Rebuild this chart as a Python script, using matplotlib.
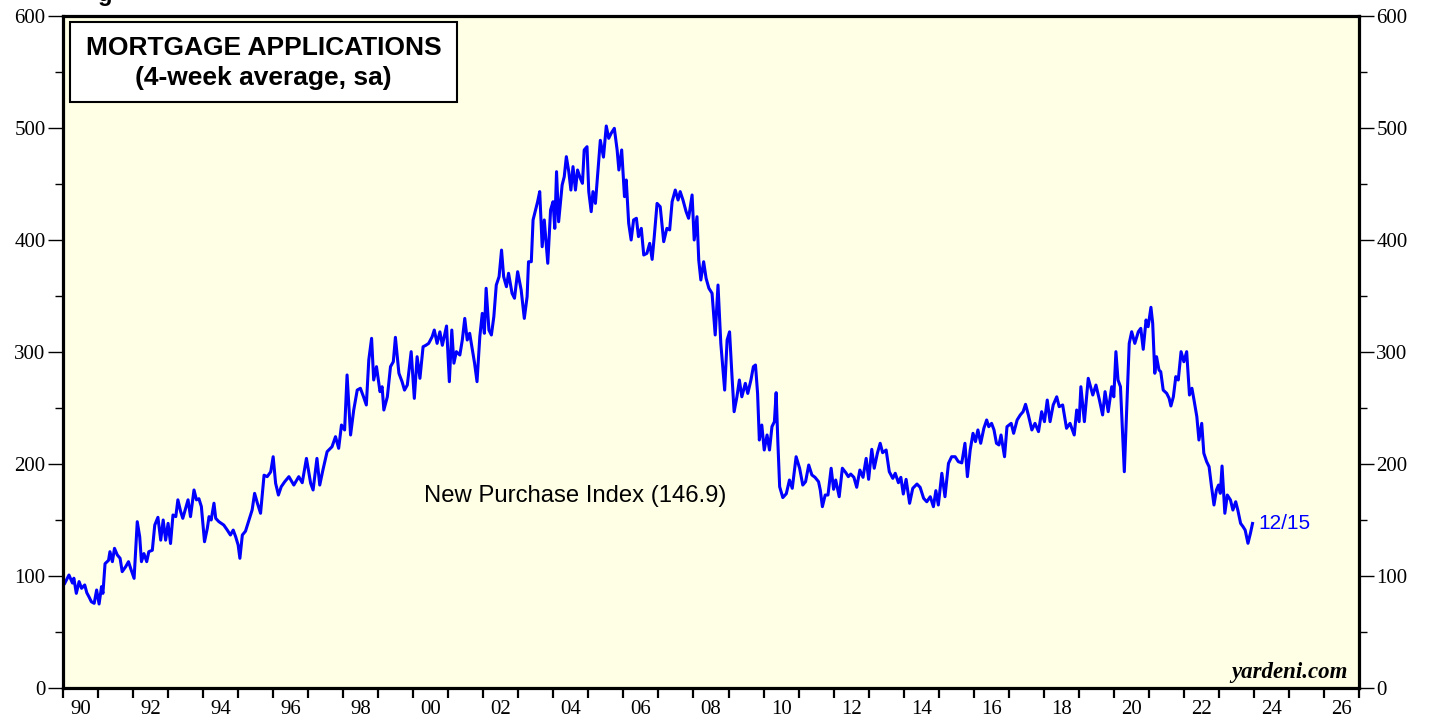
import matplotlib
matplotlib.use("Agg")
import matplotlib.pyplot as plt
from matplotlib.patches import Rectangle
from matplotlib.ticker import MultipleLocator, FixedLocator, NullFormatter, FixedFormatter

# ---- data: New Purchase Index (4-week avg, sa), decimal years ----
dates_1990s = [1990.05, 1990.17, 1990.27, 1990.31, 1990.38, 1990.46, 1990.53, 1990.62, 1990.68, 1990.74,
               1990.81, 1990.89, 1990.96, 1991.03, 1991.10, 1991.14, 1991.20, 1991.30, 1991.34, 1991.41,
               1991.47, 1991.55, 1991.63, 1991.69, 1991.79, 1991.87, 1991.93, 1992.03, 1992.12, 1992.19,
               1992.24, 1992.31, 1992.39, 1992.45, 1992.55, 1992.62, 1992.71, 1992.79, 1992.86, 1992.93,
               1993.00, 1993.07, 1993.14, 1993.22, 1993.28, 1993.36, 1993.42, 1993.50, 1993.57, 1993.64,
               1993.74, 1993.81, 1993.88, 1993.95, 1994.04, 1994.12, 1994.17, 1994.23, 1994.31, 1994.36,
               1994.45, 1994.59, 1994.69, 1994.78, 1994.86, 1994.93, 1995.00, 1995.05, 1995.12, 1995.21,
               1995.31, 1995.40, 1995.47, 1995.55, 1995.64, 1995.74, 1995.83, 1995.93, 1996.00, 1996.07,
               1996.15, 1996.23, 1996.33, 1996.45, 1996.59, 1996.73, 1996.83, 1996.95, 1997.07, 1997.14,
               1997.25, 1997.33, 1997.42, 1997.54, 1997.68, 1997.78, 1997.87, 1997.95, 1998.04, 1998.11,
               1998.21, 1998.30, 1998.40, 1998.49, 1998.58, 1998.66, 1998.73, 1998.81, 1998.87, 1998.95,
               1999.05, 1999.11, 1999.16, 1999.26, 1999.35, 1999.43, 1999.49, 1999.59, 1999.68, 1999.75,
               1999.83, 1999.94]
values_1990s = [93.5, 100.9, 93.7, 98, 84.5, 95, 89, 92, 85, 81.5,
                77, 75.6, 87.5, 75, 90.5, 84.5, 111, 114, 121.7, 112.8,
                124.7, 118.8, 115.8, 103.9, 108.3, 112.8, 106.9, 97.9, 148.5, 135,
                112.8, 120, 112.8, 121.7, 123, 145.5, 152.4, 132, 150, 132,
                147, 129, 154.5, 153, 168, 157.4, 151.5, 160.4, 168, 153,
                176.8, 168, 169, 162, 130.6, 142.6, 153, 150, 165, 151.5,
                148.5, 145.5, 141, 136.6, 141, 135, 127.7, 115.8, 136.6, 140,
                150, 159, 173.8, 165, 156, 190, 188.7, 193, 206.5, 182.8,
                172.3, 179.7, 184.2, 188.7, 181.2, 188.7, 183.3, 205, 182.8, 176.8,
                205, 181.2, 194.6, 211, 215.4, 224.4, 214, 234.8, 230.4, 279.5,
                225.9, 248.2, 266, 267.6, 260, 252.7, 292.9, 312.2, 275, 286.9,
                264.6, 269, 248.2, 260, 286.9, 291.3, 313.1, 281, 273.5, 266,
                270.5, 300.3]

dates_2000s = [2000.03, 2000.11, 2000.19, 2000.28, 2000.36, 2000.44, 2000.54, 2000.60, 2000.68, 2000.76,
               2000.83, 2000.95, 2001.03, 2001.10, 2001.16, 2001.23, 2001.33, 2001.40, 2001.47, 2001.54,
               2001.61, 2001.68, 2001.75, 2001.82, 2001.90, 2001.97, 2002.03, 2002.08, 2002.16, 2002.23,
               2002.30, 2002.37, 2002.45, 2002.52, 2002.58, 2002.66, 2002.72, 2002.82, 2002.89, 2002.98,
               2003.08, 2003.17, 2003.25, 2003.29, 2003.37, 2003.42, 2003.49, 2003.55, 2003.61, 2003.68,
               2003.74, 2003.84, 2003.92, 2003.99, 2004.04, 2004.09, 2004.15, 2004.25, 2004.31, 2004.37,
               2004.44, 2004.50, 2004.56, 2004.63, 2004.69, 2004.77, 2004.83, 2004.88, 2004.96, 2005.01,
               2005.08, 2005.13, 2005.20, 2005.26, 2005.34, 2005.43, 2005.51, 2005.58, 2005.65, 2005.74,
               2005.82, 2005.87, 2005.95, 2006.03, 2006.08, 2006.15, 2006.22, 2006.29, 2006.37, 2006.43,
               2006.51, 2006.58, 2006.67, 2006.75, 2006.82, 2006.88, 2006.96, 2007.05, 2007.15, 2007.24,
               2007.32, 2007.39, 2007.48, 2007.56, 2007.62, 2007.70, 2007.79, 2007.86, 2007.96, 2008.02,
               2008.10, 2008.15, 2008.21, 2008.29, 2008.36, 2008.44, 2008.53, 2008.62, 2008.70, 2008.78,
               2008.89, 2008.96, 2009.03, 2009.10, 2009.16, 2009.24, 2009.31, 2009.38, 2009.48, 2009.55,
               2009.64, 2009.71, 2009.77, 2009.83, 2009.88, 2009.95]
values_2000s = [258.6, 295.8, 276.5, 304.7, 306, 307.7, 313.7, 319.6, 307.7, 318,
                306, 323.2, 273.5, 319.6, 290, 300.3, 297.3, 310.7, 330, 310.7,
                316.7, 303.3, 290, 273.5, 313.7, 334.5, 316.7, 356.9, 319.6, 315.2,
                331.5, 359.8, 367.3, 391, 367.3, 358.3, 370.3, 352.4, 348, 371.7,
                355.4, 330, 349.4, 380.6, 380.6, 417.9, 426.8, 434.2, 443.2, 394,
                417.9, 379.2, 426.8, 434.2, 410.4, 461, 416.3, 449.1, 456.5, 474.4,
                461, 444.6, 465.5, 444.6, 462.5, 455, 450.6, 480.4, 483.3, 443.2,
                425.3, 443.2, 432.7, 456.5, 489, 474, 501.8, 490.8, 495.3, 499.7,
                480.4, 462.5, 480.4, 438.7, 453.6, 414.9, 400, 417.9, 419.4, 403,
                410.4, 386.6, 388.1, 397, 382.7, 403, 432.7, 429.7, 398.5, 410.4,
                409, 434.2, 444.6, 435.7, 443.2, 435.7, 425.3, 419.4, 440.2, 400,
                420.8, 382.1, 364.3, 380.6, 365.8, 356.9, 352.4, 315.2, 359.8, 307.7,
                266, 310.7, 318, 278, 246.7, 260, 275, 260, 272, 263,
                275, 286.9, 288.4, 263, 221.4, 234.8]

dates_2010s = [2010.02, 2010.10, 2010.17, 2010.24, 2010.31, 2010.36, 2010.41, 2010.46, 2010.55, 2010.65,
               2010.74, 2010.82, 2010.93, 2011.03, 2011.12, 2011.20, 2011.29, 2011.38, 2011.47, 2011.57,
               2011.62, 2011.68, 2011.76, 2011.84, 2011.93, 2012.00, 2012.06, 2012.16, 2012.25, 2012.35,
               2012.42, 2012.49, 2012.58, 2012.66, 2012.75, 2012.84, 2012.93, 2013.00, 2013.09, 2013.16,
               2013.25, 2013.33, 2013.40, 2013.50, 2013.59, 2013.69, 2013.76, 2013.85, 2013.92, 2013.99,
               2014.07, 2014.17, 2014.26, 2014.38, 2014.47, 2014.57, 2014.66, 2014.76, 2014.85, 2014.92,
               2014.99, 2015.09, 2015.18, 2015.28, 2015.37, 2015.47, 2015.56, 2015.66, 2015.75, 2015.82,
               2015.90, 2015.98, 2016.05, 2016.12, 2016.20, 2016.29, 2016.37, 2016.43, 2016.51, 2016.58,
               2016.65, 2016.72, 2016.78, 2016.88, 2016.95, 2017.07, 2017.14, 2017.24, 2017.33, 2017.41,
               2017.48, 2017.56, 2017.66, 2017.75, 2017.85, 2017.94, 2018.02, 2018.10, 2018.18, 2018.27,
               2018.37, 2018.44, 2018.54, 2018.65, 2018.75, 2018.87, 2018.94, 2019.01, 2019.06, 2019.16,
               2019.27, 2019.40, 2019.49, 2019.59, 2019.68, 2019.75, 2019.84, 2019.94]
values_2010s = [212.5, 225.9, 212.5, 233.3, 237.8, 263.7, 218.5, 179.7, 170, 173.5,
                185.7, 178.3, 206.5, 196.2, 181.2, 184.2, 199.1, 190.2, 188.1, 184.2,
                176.8, 161.9, 172.3, 172.3, 196.2, 177.4, 185.7, 170.8, 196.2, 192.2,
                188.7, 191, 188.1, 179.2, 194.6, 188.1, 205, 186.3, 213.1, 196.2,
                209.6, 218.5, 210.1, 212.5, 193.1, 187.2, 191.7, 183.3, 188.1, 173.2,
                186.3, 164.9, 178.3, 182.1, 179.2, 169.4, 166.3, 170.8, 161.9, 176.2,
                163.4, 191.7, 170.8, 200.6, 206.5, 206.5, 202.1, 201, 218.5, 188.7,
                212.5, 227.4, 220, 230.4, 218.5, 231.9, 239.3, 233.3, 236.3, 230.4,
                218.5, 217, 225.9, 206.5, 233.3, 236.3, 227.4, 239.3, 243.8, 246.7,
                253.3, 243.8, 230.4, 236.3, 228.9, 246.7, 237.8, 257.1, 237.8, 252.7,
                260, 251.2, 252.7, 231.9, 236.3, 225.9, 248.2, 237.8, 269, 237.8,
                276.5, 261.6, 270.5, 257.1, 243.8, 264.6, 246.7, 269]

dates_2020s = [2020.00, 2020.06, 2020.12, 2020.19, 2020.30, 2020.36, 2020.44, 2020.51, 2020.60, 2020.70,
               2020.77, 2020.84, 2020.92, 2020.98, 2021.06, 2021.11, 2021.17, 2021.22, 2021.29, 2021.34,
               2021.41, 2021.51, 2021.58, 2021.63, 2021.70, 2021.77, 2021.84, 2021.92, 2022.00, 2022.08,
               2022.16, 2022.23, 2022.29, 2022.37, 2022.43, 2022.51, 2022.57, 2022.65, 2022.72, 2022.79,
               2022.86, 2022.93, 2022.99, 2023.04, 2023.09, 2023.17, 2023.24, 2023.33, 2023.40, 2023.48,
               2023.54, 2023.62, 2023.69, 2023.75, 2023.83, 2023.90, 2023.96]
values_2020s = [260, 300.3, 275, 269, 193.1, 242.3, 307.7, 318.1, 307.7, 318.1,
                321.1, 302.4, 328.6, 322.6, 339.9, 325.6, 281, 295.8, 283.9, 282.4,
                266, 263.1, 258.6, 251.8, 260, 278, 275, 300.3, 291.3, 300.3,
                261.6, 267.6, 257.1, 242.3, 221.4, 236.3, 209.6, 202.1, 197.6, 179.7,
                163.4, 176.8, 181.2, 173.8, 198.2, 156, 172.3, 167.9, 158.9, 166.3,
                158.9, 147, 144, 141, 129.2, 138.1, 146.9]

dates = dates_1990s + dates_2000s + dates_2010s + dates_2020s
values = values_1990s + values_2000s + values_2010s + values_2020s

year_labels = ["90", "92", "94", "96", "98", "00", "02", "04", "06", "08",
               "10", "12", "14", "16", "18", "20", "22", "24", "26"]
label_years = list(range(1990, 2027, 2))

title_lines = ["MORTGAGE APPLICATIONS", "(4-week average, sa)"]
series_label = "New Purchase Index (146.9)"
last_date_label = "12/15"

# ---- figure ----
W, H = 1429, 719
fig = plt.figure(figsize=(W / 100, H / 100), dpi=100)
fig.patch.set_facecolor("white")
ax = fig.add_axes([63 / W, 1 - 688 / H, (1359 - 63) / W, (688 - 16) / H])
ax.set_facecolor("#ffffe6")

ax.plot(dates, values, color="#0000ff", lw=2.2, solid_joinstyle="round")

ax.set_xlim(1990, 2027)
ax.set_ylim(0, 600)

for s in ax.spines.values():
    s.set_linewidth(2.3)
    s.set_color("black")

TICK_FS = 15

# y axis ticks both sides
ax.yaxis.set_major_locator(MultipleLocator(100))
ax.yaxis.set_minor_locator(MultipleLocator(50))
ax.tick_params(axis="y", which="major", direction="out", length=11, width=1.0,
               left=True, right=True, labelleft=True, labelright=True, pad=1.5,
               labelsize=TICK_FS)
ax.tick_params(axis="y", which="minor", direction="out", length=6, width=1.0,
               left=True, right=True)
for lab in ax.get_yticklabels():
    lab.set_fontfamily("Liberation Serif")

# x axis: major ticks at year boundaries, labels at mid-year
ax.xaxis.set_major_locator(FixedLocator(list(range(1990, 2028))))
ax.xaxis.set_major_formatter(NullFormatter())
ax.xaxis.set_minor_locator(FixedLocator([y + 0.5 for y in label_years]))
ax.xaxis.set_minor_formatter(FixedFormatter(year_labels))
ax.tick_params(axis="x", which="major", direction="out", length=7.5, width=1.6,
               bottom=True, top=False)
ax.tick_params(axis="x", which="minor", length=0, pad=9, labelsize=TICK_FS)
for lab in ax.get_xticklabels(minor=True):
    lab.set_fontfamily("Liberation Serif")

# title box
box = Rectangle((0.0054, 0.872), 0.2986, 0.119, transform=ax.transAxes,
                facecolor="white", edgecolor="black", lw=1.5, zorder=5)
ax.add_patch(box)
ax.text(0.1547, 0.952, title_lines[0], transform=ax.transAxes, ha="center", va="center",
        fontfamily="Liberation Sans", fontweight="bold", fontsize=19, zorder=6)
ax.text(0.1547, 0.907, title_lines[1], transform=ax.transAxes, ha="center", va="center",
        fontfamily="Liberation Sans", fontweight="bold", fontsize=19, zorder=6)

ax.text(2004.63, 171.4, series_label, ha="center", va="center",
        fontfamily="Liberation Sans", fontsize=17.2, color="black")
ax.text(2024.14, 147.3, last_date_label, ha="left", va="center",
        fontfamily="Liberation Sans", fontsize=15, color="#0000ff")
ax.text(0.9915, 0.023, "yardeni.com", transform=ax.transAxes, ha="right", va="center",
        fontfamily="Liberation Serif", fontweight="bold", fontstyle="italic", fontsize=16.5)

# cropped header fragment at the very top edge (cut off in the reference too)
fig.text(105 / W, 1 - 1.5 / H, "g", ha="center", va="baseline",
         fontfamily="Liberation Sans", fontweight="bold", fontsize=17)

fig.savefig("out.png", dpi=100)
